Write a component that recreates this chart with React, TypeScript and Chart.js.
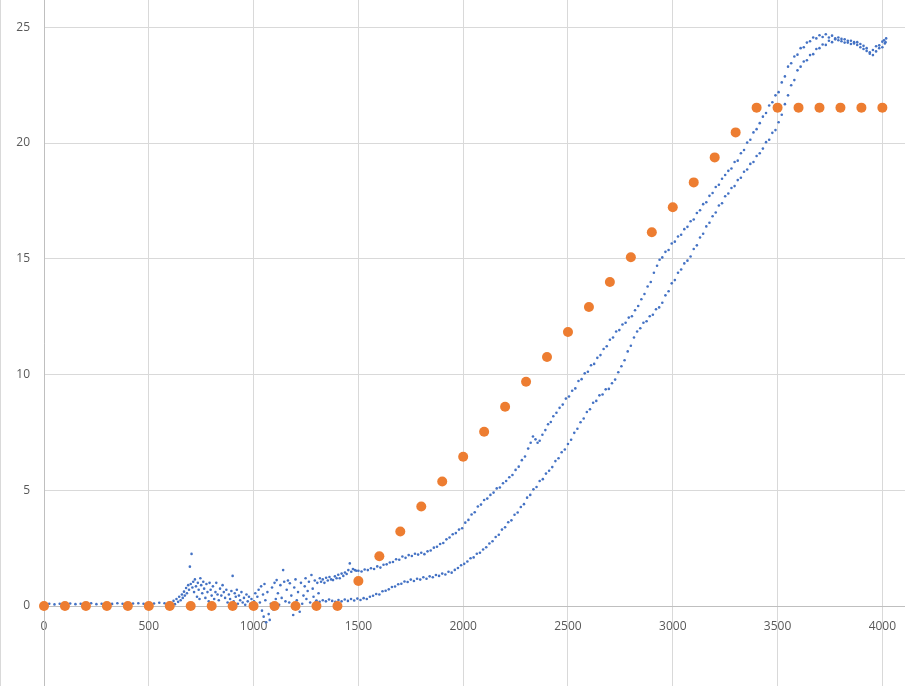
import { useEffect, useRef } from "react";
import { Chart, registerables } from "chart.js";

Chart.register(...registerables);

// orange series: one point every 100 units
const stepX = [
  0, 100, 200, 300, 400, 500, 600, 700, 800, 900, 1000, 1100, 1200, 1300, 1400,
  1500, 1600, 1700, 1800, 1900, 2000, 2100, 2200, 2300, 2400, 2500, 2600, 2700,
  2800, 2900, 3000, 3100, 3200, 3300, 3400, 3500, 3600, 3700, 3800, 3900, 4000,
];
const stepY = [
  0, 0, 0, 0, 0, 0, 0, 0, 0, 0, 0, 0, 0, 0, 0,
  1.08, 2.15, 3.22, 4.3, 5.38, 6.45, 7.53, 8.61, 9.69, 10.76, 11.84, 12.92, 14.0,
  15.07, 16.15, 17.23, 18.3, 19.38, 20.46, 21.53, 21.53, 21.53, 21.53, 21.53, 21.53, 21.53,
];

const baseline: [number, number][] = [
  [0, 0.08], [25, 0.1], [50, 0.07], [75, 0.1], [100, 0.09], [125, 0.11], [150, 0.08],
  [175, 0.1], [200, 0.09], [225, 0.12], [250, 0.08], [275, 0.1], [300, 0.11], [325, 0.09],
  [350, 0.12], [375, 0.1], [400, 0.08], [425, 0.11], [450, 0.12], [475, 0.1], [500, 0.13],
  [525, 0.11], [550, 0.14], [575, 0.12], [600, 0.16],
];

const noisy: [number, number][] = [
  [610, 0.1], [618, 0.22], [625, 0.08], [632, 0.3], [640, 0.18], [645, 0.4], [652, 0.25],
  [658, 0.5], [662, 0.35], [668, 0.62], [672, 0.45], [678, 0.78], [682, 0.55], [688, 0.9],
  [692, 0.7], [696, 1.7], [700, 0.95], [704, 2.25], [708, 0.8], [712, 1.05], [716, 0.6],
  [720, 1.15], [725, 0.85], [730, 0.4], [734, 1.0], [738, 0.7], [742, 0.3], [746, 1.2],
  [750, 0.9], [755, 0.55], [760, 1.05], [764, 0.75], [770, 0.35], [775, 0.95], [780, 0.6],
  [786, 0.2], [790, 1.0], [795, 0.7], [800, 0.45], [806, 0.85], [812, 0.3], [818, 0.6],
  [822, 1.0], [828, 0.5], [834, 0.25], [840, 0.75], [846, 0.45], [852, 0.9], [858, 0.6],
  [864, 0.35], [870, 0.7], [876, 0.15], [882, 0.5], [888, 0.3], [894, 0.65], [900, 1.3],
  [905, 0.2], [910, 0.55], [915, 0.4], [920, 0.7], [925, 0.1], [930, 0.45], [936, 0.25],
  [942, 0.6], [948, 0.15], [954, 0.35], [960, 0.05], [966, 0.5], [972, 0.2], [978, 0.4],
  [985, 0.1], [990, 0.3], [996, -0.05], [1002, 0.2], [1008, 0.55], [1012, 0.05], [1018, 0.4],
  [1024, 0.7], [1030, 0.15], [1036, 0.85], [1040, -0.2], [1045, 0.5], [1048, -0.46],
  [1052, 0.95], [1056, 0.25], [1060, -0.7], [1066, 0.6], [1072, -0.35], [1077, -0.6],
  [1082, 0.1], [1088, 0.8], [1094, -0.15], [1100, 1.0], [1106, 0.3], [1110, 1.12],
  [1116, 0.55], [1122, 0.05], [1128, 0.9], [1134, 0.35], [1141, 1.55], [1146, 1.05],
  [1152, 0.2], [1158, 0.7], [1164, 1.1], [1170, 0.15], [1173, 0.98], [1180, 0.45],
  [1185, 0.05], [1189, -0.39], [1194, 0.8], [1200, 1.15], [1206, 0.25], [1212, 0.6],
  [1220, -0.25], [1226, 1.0], [1232, 0.1], [1238, 0.45], [1244, 0.85], [1248, 1.2],
  [1252, 0.3], [1258, 0.65], [1264, 1.05], [1270, 0.15], [1276, 1.34], [1282, 0.75],
  [1286, 0.4], [1292, 1.1], [1298, 0.2], [1304, 1.0], [1310, 0.55], [1316, 1.2],
  [1322, 1.05], [1330, 1.15], [1338, 1.0], [1346, 1.22], [1354, 1.1], [1362, 1.25],
  [1370, 1.15], [1379, 1.12], [1388, 1.28], [1396, 1.2], [1404, 1.35], [1411, 1.2],
  [1420, 1.4], [1428, 1.3], [1436, 1.45], [1444, 1.38], [1452, 1.55], [1459, 1.84],
  [1466, 1.48], [1474, 1.6], [1483, 1.55], [1490, 1.52],
];

// upper-left branch
const rise: [number, number][] = [
  [1500, 1.52], [1515, 1.49], [1530, 1.58], [1545, 1.55], [1560, 1.63], [1575, 1.6],
  [1590, 1.71], [1605, 1.66], [1620, 1.78], [1635, 1.8], [1650, 1.88], [1665, 1.9],
  [1680, 2.02], [1695, 2.0], [1710, 2.14], [1725, 2.08], [1740, 2.2], [1755, 2.16],
  [1770, 2.26], [1785, 2.22], [1800, 2.3], [1815, 2.24], [1830, 2.36], [1845, 2.4],
  [1860, 2.52], [1875, 2.56], [1890, 2.68], [1905, 2.72], [1920, 2.88], [1935, 2.96],
  [1950, 3.1], [1965, 3.15], [1980, 3.3], [1995, 3.36], [2010, 3.6], [2025, 3.72],
  [2040, 3.95], [2055, 4.05], [2070, 4.3], [2085, 4.38], [2100, 4.58], [2115, 4.64],
  [2130, 4.8], [2145, 4.9], [2160, 5.08], [2175, 5.12], [2190, 5.3], [2205, 5.4],
  [2220, 5.56], [2235, 5.66], [2250, 5.88], [2265, 6.02], [2280, 6.3], [2295, 6.46],
  [2310, 6.8], [2322, 7.05], [2333, 7.32], [2345, 7.2], [2355, 7.05], [2365, 7.14],
  [2378, 7.4], [2392, 7.6], [2405, 7.85], [2418, 7.95], [2430, 8.2], [2445, 8.35],
  [2460, 8.56], [2475, 8.7], [2490, 8.96], [2505, 9.05], [2520, 9.3], [2535, 9.4],
  [2550, 9.72], [2565, 9.8], [2580, 10.05], [2595, 10.12], [2610, 10.4], [2625, 10.46],
  [2640, 10.72], [2655, 10.84], [2670, 11.1], [2685, 11.22], [2700, 11.5], [2715, 11.6],
  [2730, 11.86], [2745, 11.92], [2760, 12.16], [2775, 12.24], [2790, 12.46], [2805, 12.52],
  [2820, 12.78], [2835, 12.96], [2850, 13.25], [2865, 13.48], [2880, 13.8], [2895, 14.0],
  [2910, 14.4], [2925, 14.7], [2937, 14.96], [2950, 15.06], [2965, 15.3], [2980, 15.38],
  [2995, 15.66], [3010, 15.74], [3025, 15.96], [3040, 16.04], [3055, 16.28], [3070, 16.38],
  [3085, 16.62], [3100, 16.7], [3115, 16.98], [3130, 17.1], [3145, 17.36], [3160, 17.44],
  [3175, 17.72], [3190, 17.84], [3205, 18.1], [3220, 18.2], [3235, 18.46], [3250, 18.62],
  [3265, 18.8], [3280, 18.9], [3295, 19.18], [3310, 19.24], [3325, 19.56], [3340, 19.7],
  [3355, 20.02], [3370, 20.14], [3385, 20.46], [3400, 20.6], [3415, 20.86], [3430, 21.14],
  [3445, 21.3], [3460, 21.62], [3475, 21.76], [3490, 22.06], [3505, 22.2], [3520, 22.62],
  [3535, 22.88], [3550, 23.3], [3565, 23.45], [3580, 23.74], [3595, 23.82], [3610, 24.1],
  [3625, 24.14], [3640, 24.34], [3655, 24.4], [3670, 24.56], [3685, 24.52], [3700, 24.66],
  [3715, 24.58], [3730, 24.7], [3745, 24.56], [3760, 24.64], [3775, 24.48], [3790, 24.56],
  [3805, 24.4], [3820, 24.48], [3835, 24.34], [3850, 24.42], [3865, 24.3], [3880, 24.36],
  [3895, 24.14], [3910, 24.2], [3925, 23.98], [3940, 23.86], [3955, 24.02], [3970, 24.18],
  [3985, 24.1], [4000, 24.38], [4012, 24.3], [4018, 24.52],
];

// lower-right branch
const fall: [number, number][] = [
  [1300, 0.24], [1315, 0.18], [1330, 0.25], [1345, 0.2], [1360, 0.28], [1375, 0.22],
  [1390, 0.18], [1405, 0.26], [1420, 0.2], [1435, 0.28], [1450, 0.22], [1465, 0.3],
  [1480, 0.24], [1495, 0.32], [1510, 0.26], [1525, 0.34], [1540, 0.3], [1555, 0.4],
  [1570, 0.44], [1585, 0.52], [1600, 0.5], [1615, 0.64], [1630, 0.66], [1645, 0.72],
  [1660, 0.82], [1675, 0.84], [1690, 0.94], [1705, 0.96], [1720, 1.06], [1735, 1.04],
  [1750, 1.14], [1765, 1.08], [1780, 1.18], [1795, 1.14], [1810, 1.24], [1825, 1.18],
  [1840, 1.28], [1855, 1.24], [1870, 1.34], [1885, 1.3], [1900, 1.4], [1915, 1.36],
  [1930, 1.48], [1945, 1.44], [1960, 1.56], [1975, 1.64], [1990, 1.76], [2005, 1.82],
  [2020, 1.92], [2035, 2.06], [2050, 2.1], [2065, 2.26], [2080, 2.3], [2095, 2.44],
  [2110, 2.54], [2125, 2.7], [2140, 2.8], [2155, 2.98], [2170, 3.08], [2185, 3.3],
  [2200, 3.4], [2215, 3.62], [2230, 3.7], [2245, 3.94], [2260, 4.04], [2275, 4.28],
  [2290, 4.4], [2305, 4.68], [2320, 4.8], [2335, 5.04], [2350, 5.14], [2365, 5.4],
  [2380, 5.48], [2395, 5.72], [2410, 5.84], [2425, 6.0], [2440, 6.26], [2455, 6.38],
  [2470, 6.64], [2485, 6.76], [2500, 7.0], [2515, 7.18], [2530, 7.48], [2545, 7.66],
  [2560, 7.94], [2575, 8.1], [2590, 8.38], [2605, 8.5], [2620, 8.78], [2635, 8.86],
  [2650, 9.1], [2665, 9.14], [2680, 9.36], [2695, 9.38], [2710, 9.62], [2725, 9.78],
  [2740, 10.1], [2755, 10.36], [2770, 10.62], [2785, 11.0], [2800, 11.24], [2815, 11.6],
  [2830, 11.86], [2845, 12.0], [2860, 12.24], [2875, 12.3], [2890, 12.52], [2905, 12.58],
  [2920, 12.82], [2935, 12.9], [2950, 13.1], [2965, 13.42], [2980, 13.6], [2995, 13.94],
  [3010, 14.08], [3025, 14.4], [3040, 14.54], [3055, 14.8], [3070, 14.92], [3085, 15.1],
  [3100, 15.42], [3115, 15.58], [3130, 15.92], [3145, 16.08], [3160, 16.4], [3175, 16.56],
  [3190, 16.84], [3205, 17.0], [3220, 17.3], [3235, 17.4], [3250, 17.7], [3265, 17.82],
  [3280, 18.06], [3295, 18.14], [3310, 18.4], [3325, 18.5], [3340, 18.76], [3355, 18.86],
  [3370, 19.1], [3385, 19.18], [3400, 19.44], [3415, 19.56], [3430, 19.76], [3445, 20.04],
  [3460, 20.14], [3475, 20.44], [3490, 20.56], [3505, 20.9], [3520, 21.22], [3535, 21.68],
  [3550, 22.06], [3565, 22.5], [3580, 22.72], [3595, 23.14], [3610, 23.3], [3625, 23.52],
  [3640, 23.58], [3655, 23.8], [3670, 23.84], [3685, 24.06], [3700, 24.1], [3715, 24.26],
  [3730, 24.24], [3745, 24.42], [3760, 24.36], [3775, 24.52], [3790, 24.44], [3805, 24.5],
  [3820, 24.34], [3835, 24.42], [3850, 24.28], [3865, 24.36], [3880, 24.24], [3895, 24.28],
  [3910, 24.06], [3925, 24.1], [3940, 23.92], [3955, 23.8], [3970, 23.96], [3985, 24.22],
  [4000, 24.14], [4008, 24.44], [4015, 24.36],
];

const xTicks = [0, 500, 1000, 1500, 2000, 2500, 3000, 3500, 4000];
const yTicks = [0, 5, 10, 15, 20, 25];

const tickFont = { family: "'Open Sans', 'Noto Sans', sans-serif", size: 12 };
const tickColor = "#595959";

export default function App() {
  const canvasRef = useRef<HTMLCanvasElement>(null);

  useEffect(() => {
    if (!canvasRef.current) return;

    const chart = new Chart(canvasRef.current, {
      type: "scatter",
      data: {
        datasets: [
          {
            data: stepX.map((x, i) => ({ x, y: stepY[i] })),
            backgroundColor: "#ED7D31",
            borderWidth: 0,
            pointRadius: 5,
            clip: false,
          },
          {
            data: [...baseline, ...noisy, ...rise, ...fall].map(([x, y]) => ({ x, y })),
            backgroundColor: "#4472C4",
            borderWidth: 0,
            pointRadius: 1.3,
            clip: false,
          },
        ],
      },
      options: {
        responsive: false,
        animation: false,
        devicePixelRatio: 1,
        layout: { padding: 0, autoPadding: false },
        plugins: { legend: { display: false }, tooltip: { enabled: false } },
        scales: {
          x: {
            type: "linear",
            min: 0,
            max: 4108,
            position: { y: 0 },
            afterBuildTicks: (s) => {
              s.ticks = xTicks.map((value) => ({ value }));
            },
            afterFit: (s) => {
              s.paddingLeft = 0;
              s.paddingRight = 0;
            },
            grid: { color: "#d9d9d9", drawTicks: false },
            border: { color: "#bfbfbf" },
            ticks: {
              font: tickFont,
              color: tickColor,
              padding: 13,
              maxRotation: 0,
              autoSkip: false,
              callback: (v) => String(v),
            },
          },
          y: {
            type: "linear",
            min: -3.456,
            max: 26.18,
            afterBuildTicks: (s) => {
              s.ticks = yTicks.map((value) => ({ value }));
            },
            afterFit: (s) => {
              s.width = 43;
              s.paddingTop = 0;
              s.paddingBottom = 0;
            },
            grid: { color: "#d9d9d9", drawTicks: false },
            border: { color: "#bfbfbf" },
            ticks: { font: tickFont, color: tickColor, padding: 14, callback: (v) => String(v) },
          },
        },
      },
    });

    return () => chart.destroy();
  }, []);

  return (
    <div
      style={{
        position: "fixed",
        left: 0,
        top: 0,
        width: 905,
        height: 686,
        boxSizing: "border-box",
        borderLeft: "1px solid #d9d9d9",
        background: "#fff",
      }}
    >
      <canvas ref={canvasRef} width={904} height={686} style={{ display: "block" }} />
    </div>
  );
}
